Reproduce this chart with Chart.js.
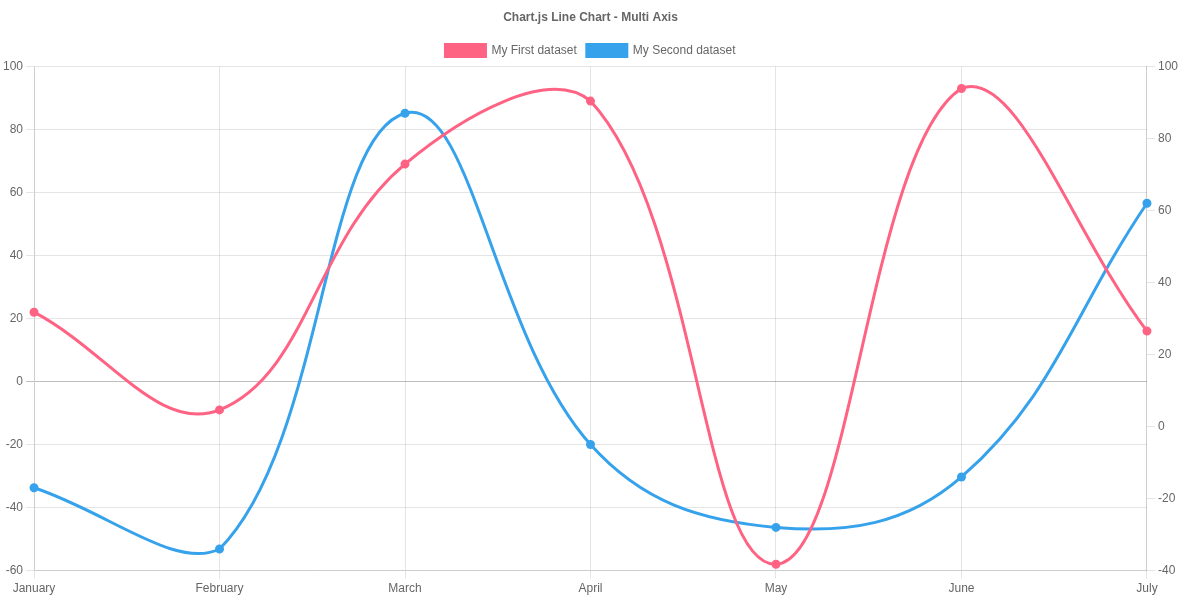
<!DOCTYPE html>
<html><head><meta charset="utf-8">
<script src="https://cdn.jsdelivr.net/npm/chart.js@4/dist/chart.umd.min.js"></script>
<style>html,body{margin:0;padding:0;background:#fff}#w{width:1186px;height:599px}</style>
</head><body><div id="w"><canvas id="c"></canvas></div>
<script>
const labels = ['January','February','March','April','May','June','July'];
const firstData = [22, -9, 69, 89, -58, 93, 16];
const secondData = [-17, -34, 87, -5, -28, -14, 62];
const leftTicks = {min:-60, max:100, step:20};
const rightTicks = {min:-40, max:100, step:20};
Chart.defaults.font.family = 'Arial, "Liberation Sans", sans-serif';
Chart.defaults.font.size = 12;
Chart.defaults.color = '#666';
new Chart(document.getElementById('c'), {
  type:'line',
  data:{labels, datasets:[
    {label:'My First dataset', data:firstData, borderColor:'rgb(255,99,132)', backgroundColor:'rgb(255,99,132)', fill:false, yAxisID:'y', tension:0.4, borderWidth:3, pointRadius:3},
    {label:'My Second dataset', data:secondData, borderColor:'rgb(54,162,235)', backgroundColor:'rgb(54,162,235)', fill:false, yAxisID:'y1', tension:0.4, borderWidth:3, pointRadius:3}
  ]},
  options:{
    responsive:true, maintainAspectRatio:false, animation:false,
    layout:{padding:{left:0,right:5,top:0,bottom:0}},
    plugins:{
      title:{display:true, text:'Chart.js Line Chart - Multi Axis', font:{weight:'bold',size:12}, color:'#666', padding:{top:10,bottom:10}},
      legend:{labels:{boxWidth:40, boxHeight:12, color:'#666'}}
    },
    scales:{
      x:{grid:{color:'rgba(0,0,0,0.1)'}, ticks:{maxRotation:0}},
      y:{position:'left', min:leftTicks.min, max:leftTicks.max, ticks:{stepSize:leftTicks.step},
         grid:{color:c=>c.tick && c.tick.value===0?'rgba(0,0,0,0.25)':'rgba(0,0,0,0.1)'}},
      y1:{position:'right', min:rightTicks.min, max:rightTicks.max, ticks:{stepSize:rightTicks.step},
         grid:{drawOnChartArea:false, color:'rgba(0,0,0,0.1)'}}
    }
  }
});
</script></body></html>
